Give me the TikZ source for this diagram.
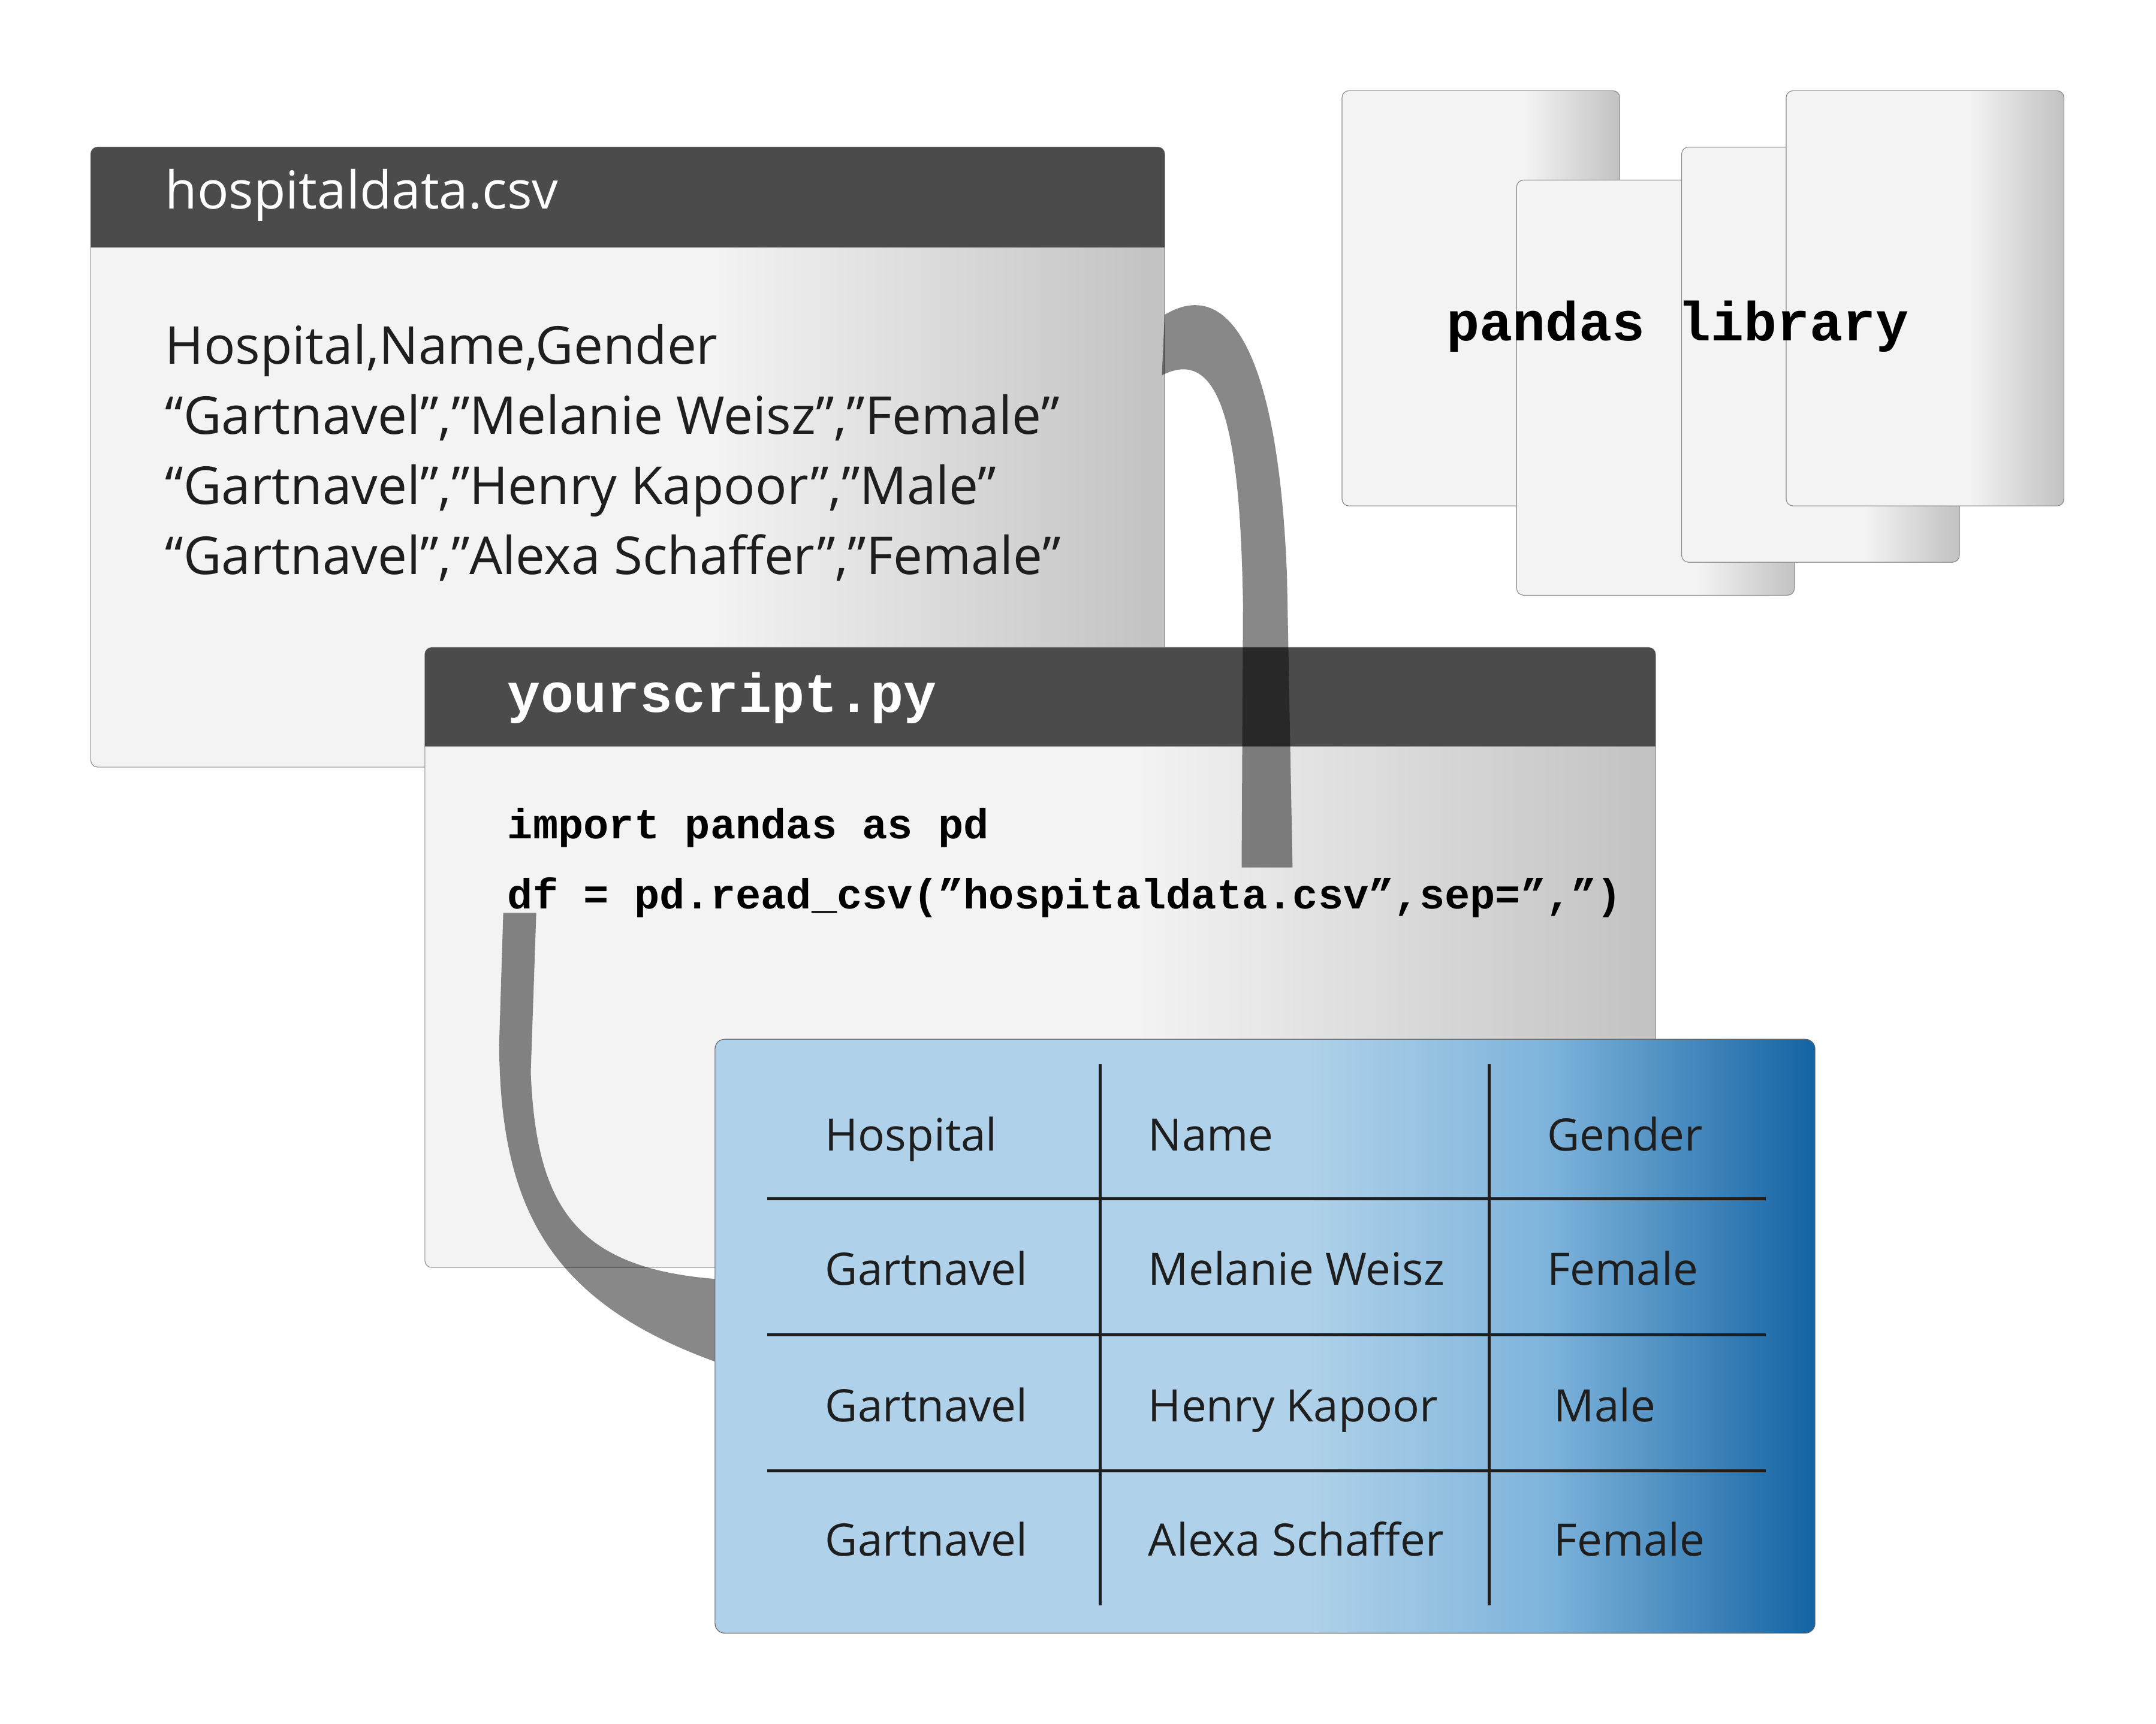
\documentclass[tikz,border=0pt]{standalone}
\usepackage{fontspec}
\setmainfont{Open Sans}
\setmonofont{Liberation Mono}

\definecolor{hdrgray}{HTML}{4B4B4B}
\definecolor{winlight}{HTML}{F3F3F3}
\definecolor{windark}{HTML}{C2C2C2}
\definecolor{bandgray}{HTML}{888888}
\definecolor{tbllight}{HTML}{AFD1E9}
\definecolor{tblmid}{HTML}{7DB3DB}
\definecolor{tbldark}{HTML}{1463A3}
\definecolor{inkdark}{HTML}{1E1E1E}

\pgfdeclarehorizontalshading{winfade}{100bp}{color(0bp)=(winlight); color(54bp)=(winlight); color(75bp)=(windark); color(100bp)=(windark)}
\pgfdeclarehorizontalshading{cardfade}{100bp}{color(0bp)=(winlight); color(58bp)=(winlight); color(75bp)=(windark); color(100bp)=(windark)}
\pgfdeclarehorizontalshading{tablefade}{100bp}{color(0bp)=(tbllight); color(52bp)=(tbllight); color(63bp)=(tblmid); color(75bp)=(tbldark); color(100bp)=(tbldark)}

\tikzset{
  window/.style={draw=black!45, line width=0.5pt, rounded corners=5pt, shade, shading=winfade},
  card/.style={draw=black!45, line width=0.5pt, rounded corners=5pt, shade, shading=cardfade},
  header/.style={fill=hdrgray},
  band/.style={fill=bandgray},
  grid/.style={draw=inkdark, line width=2pt},
  csvtext/.style={anchor=base west, inner sep=0pt, text=inkdark, font=\fontsize{38}{45}\selectfont},
  cell/.style={anchor=base west, inner sep=0pt, text=inkdark, font=\fontsize{32.5}{39}\selectfont},
  code/.style={anchor=base west, inner sep=0pt, text=black, font=\ttfamily\bfseries\fontsize{30.7}{37}\selectfont},
}

\begin{document}
\begin{tikzpicture}[x=1pt, y=-1pt]
\useasboundingbox (0,0) rectangle (1568,1253.7);

% csv file window
\path[window] (66,107) rectangle (847,558);
\fill[header] (66,180) [rounded corners=5pt] -- (66,107) -- (847,107) [sharp corners] -- (847,180) -- cycle;
\node[csvtext, text=white] (csvtitle) at (120,152) {hospitaldata.csv};
\node[csvtext] (csvrow1) at (120,265) {Hospital,Name,Gender};
\node[csvtext] (csvrow2) at (120,316) {“Gartnavel”,”Melanie Weisz”,”Female”};
\node[csvtext] (csvrow3) at (120,367) {“Gartnavel”,”Henry Kapoor”,”Male”};
\node[csvtext] (csvrow4) at (120,418) {“Gartnavel”,”Alexa Schaffer”,”Female”};

% pandas library cards
\path[card] (976,66) rectangle (1178,368);
\path[card] (1103,131) rectangle (1305,433);
\path[card] (1223,107) rectangle (1425,409);
\path[card] (1299,66) rectangle (1501,368);
\node[code, font=\ttfamily\bfseries\fontsize{40}{48}\selectfont] (pdlib) at (1052,248) {pandas library};

% script window
\path[window] (309,471) rectangle (1204,922);
\fill[header] (309,543) [rounded corners=5pt] -- (309,471) -- (1204,471) [sharp corners] -- (1204,543) -- cycle;
\node[code, text=white, font=\ttfamily\bfseries\fontsize{40}{48}\selectfont] (pytitle) at (369,518) {yourscript.py};
\node[code] (pyline1) at (369,610) {import pandas as pd};
\node[code] (pyline2) at (369,661) {df = pd.read\_csv(”hospitaldata.csv”,sep=”,”)};

% connecting bands
\begin{scope}[blend mode=multiply]
\fill[band] (847,229) .. controls (895,200) and (930,260) .. (936,420) -- (940,631)
  -- (903,631) -- (904,440) .. controls (902,320) and (890,250) .. (845,273) -- cycle;
\fill[band] (366,664) -- (363,760) .. controls (364,880) and (400,950) .. (530,994)
  -- (530,931) .. controls (420,925) and (390,880) .. (386,780) -- (390,664) -- cycle;
\end{scope}

% data frame table
\path[draw=black!60, line width=0.5pt, rounded corners=7pt, shade, shading=tablefade] (520,756) rectangle (1320,1188);
\draw[grid] (558,872) -- (1284,872);
\draw[grid] (558,971) -- (1284,971);
\draw[grid] (558,1070) -- (1284,1070);
\draw[grid] (800,774) -- (800,1168);
\draw[grid] (1083,774) -- (1083,1168);

\node[cell] (hhosp) at (600,837) {Hospital};
\node[cell] (hname) at (835,837) {Name};
\node[cell] (hgend) at (1125,837) {Gender};
\node[cell] (hosp1) at (600,935) {Gartnavel};
\node[cell] (name1) at (835,935) {Melanie Weisz};
\node[cell] (gend1) at (1125,935) {Female};
\node[cell] (hosp2) at (600,1034) {Gartnavel};
\node[cell] (name2) at (835,1034) {Henry Kapoor};
\node[cell] (gend2) at (1130,1034) {Male};
\node[cell] (hosp3) at (600,1132) {Gartnavel};
\node[cell] (name3) at (835,1132) {Alexa Schaffer};
\node[cell] (gend3) at (1130,1132) {Female};
\end{tikzpicture}
\end{document}
